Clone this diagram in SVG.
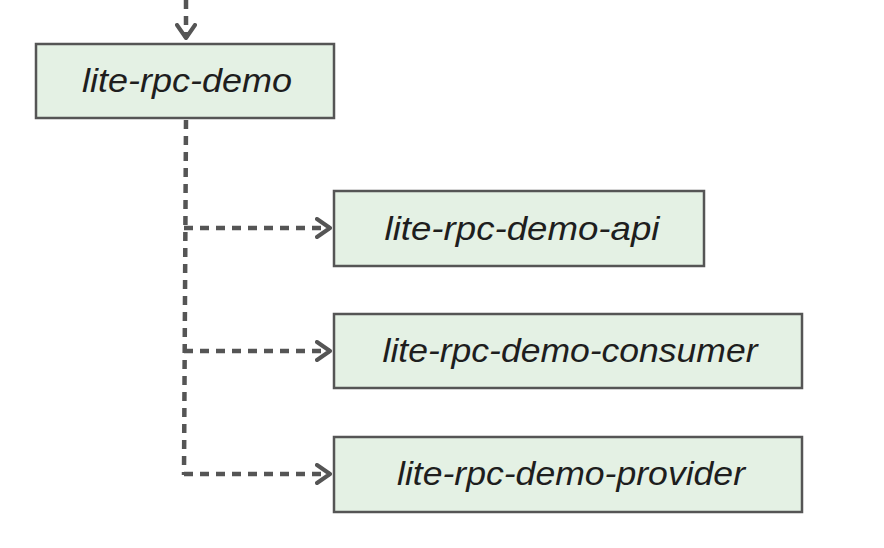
<svg xmlns="http://www.w3.org/2000/svg" width="884" height="548" viewBox="0 0 884 548">
<defs>
<marker id="arr" markerWidth="18" markerHeight="22" refX="15" refY="11" orient="auto" markerUnits="userSpaceOnUse">
<path d="M2,2 L15,11 L2,20" fill="none" stroke="#555" stroke-width="4" stroke-linecap="round" stroke-linejoin="round"/>
</marker>
<style>
.box{fill:#e4f1e4;stroke:#555;stroke-width:2.5}
.lbl{font-family:"Liberation Sans",Arial,sans-serif;font-style:italic;font-size:33px;fill:#1e1e1e;text-anchor:middle}
.con{fill:none;stroke:#555;stroke-width:4.5;stroke-dasharray:9 7}
</style>
</defs>
<rect width="884" height="548" fill="#fff"/>
<g id="connectors">
<path class="con" d="M186,0 L186,38" marker-end="url(#arr)"/>
<path class="con" d="M186,120 L184,475"/>
<path class="con" d="M184,228 L330,228" marker-end="url(#arr)"/>
<path class="con" d="M184,351 L330,351" marker-end="url(#arr)"/>
<path class="con" d="M184,474 L330,474" marker-end="url(#arr)"/>
</g>
<g id="node-demo">
<rect class="box" x="36" y="44" width="298" height="74"/>
<text class="lbl" x="187" y="92" textLength="210" lengthAdjust="spacingAndGlyphs">lite-rpc-demo</text>
</g>
<g id="node-api">
<rect class="box" x="334" y="191" width="370" height="75"/>
<text class="lbl" x="522" y="240" textLength="275" lengthAdjust="spacingAndGlyphs">lite-rpc-demo-api</text>
</g>
<g id="node-consumer">
<rect class="box" x="334" y="314" width="468" height="74"/>
<text class="lbl" x="570" y="362" textLength="375" lengthAdjust="spacingAndGlyphs">lite-rpc-demo-consumer</text>
</g>
<g id="node-provider">
<rect class="box" x="334" y="437" width="468" height="75"/>
<text class="lbl" x="571" y="485" textLength="348" lengthAdjust="spacingAndGlyphs">lite-rpc-demo-provider</text>
</g>
</svg>
